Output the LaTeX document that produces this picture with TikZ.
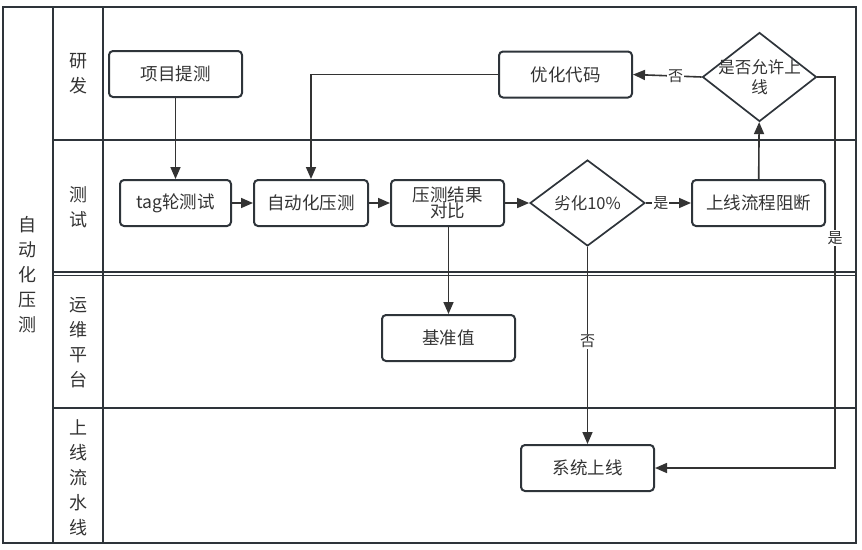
\documentclass[tikz,border=0pt]{standalone}
\usepackage{fontspec}
\setmainfont{Noto Sans CJK SC}
\usetikzlibrary{arrows.meta,shapes.geometric}
\definecolor{ink}{HTML}{333333}
\definecolor{frame}{HTML}{2E343A}
\begin{document}
\begin{tikzpicture}[x=1pt,y=-1pt,
  box/.style={draw=frame,line width=2pt,rounded corners=4pt,minimum width=133pt,minimum height=46pt,inner sep=0pt,text=ink,font=\fontsize{17.5}{20}\selectfont,align=center},
  dia/.style={draw=frame,line width=1.7pt,diamond,inner sep=0pt,text=ink},
  arr/.style={draw=ink,line width=1.6pt,-{Triangle[length=12pt,width=10pt]}},
  lbl/.style={fill=white,inner sep=1pt,text=ink,font=\fontsize{15}{17}\selectfont},
  lane/.style={text=ink,font=\fontsize{18}{25}\selectfont,align=center,inner sep=0pt},
  fr/.style={draw=frame,line width=1.8pt}]
\useasboundingbox (0,0) rectangle (862,549);
% frame
\draw[fr] (3,7) rectangle (856,543);
\draw[fr] (53,7) -- (53,543);
\draw[fr] (103,7) -- (103,543);
\draw[fr] (53,140) -- (856,140);
\draw[fr] (53,272) -- (856,272);
\draw[fr] (53,275.5) -- (856,275.5);
\draw[fr] (53,408) -- (856,408);
% lane labels
\node[lane] (pool) at (28,275) {自\\动\\化\\压\\测};
\node[lane] (l1) at (78,74) {研\\发};
\node[lane] (l2) at (78,207) {测\\试};
\node[lane] (l3) at (78,343) {运\\维\\平\\台};
\node[lane] (l4) at (78,478) {上\\线\\流\\水\\线};
% nodes
\node[box] (tiche) at (175.5,74) {项目提测};
\node[box,minimum width=111pt] (tag) at (175.5,203) {tag轮测试};
\node[box,minimum width=114pt] (auto) at (311,203) {自动化压测};
\node[box,minimum width=113pt] (cmp) at (447.5,203) {压测结果\\[-4pt]对比};
\node[dia,minimum width=115pt,minimum height=86pt] (deg) at (587.5,203) {};
\node[text=ink,font=\fontsize{16.5}{19}\selectfont] (degt) at (deg.center) {劣化10\%};
\node[box] (block) at (758.5,203) {上线流程阻断};
\node[dia,minimum width=114pt,minimum height=89pt] (allow) at (759.5,77) {};
\node[text=ink,font=\fontsize{16.5}{20}\selectfont,align=center] (allowt) at (allow.center) {是否允许上\\线};
\node[box] (opt) at (565.5,74.5) {优化代码};
\node[box] (base) at (448.5,338) {基准值};
\node[box] (online) at (587.5,468) {系统上线};
% connectors
\draw[arr] (tiche) -- (tag);
\draw[arr] (tag) -- (auto);
\draw[arr] (auto) -- (cmp);
\draw[arr] (cmp) -- (deg);
\draw[arr] (deg.east) -- node[lbl,pos=0.33] (yes1) {是} (block.west);
\draw[arr] (block) -- (allow);
\draw[arr] (allow.west) -- node[lbl,pos=0.38] (no1) {否} (opt.east);
\draw[arr] (opt.west) -| (auto.north);
\draw[arr] (cmp.south -| base.north) -- (base.north);
\draw[arr] (deg.south) -- node[lbl,pos=0.48] (no2) {否} (online.north);
\coordinate (turn) at (835,77);
\draw[arr] (allow.east) -- (turn) |- node[lbl,pos=0.206] (yes2) {是} (online.east);
\end{tikzpicture}
\end{document}
